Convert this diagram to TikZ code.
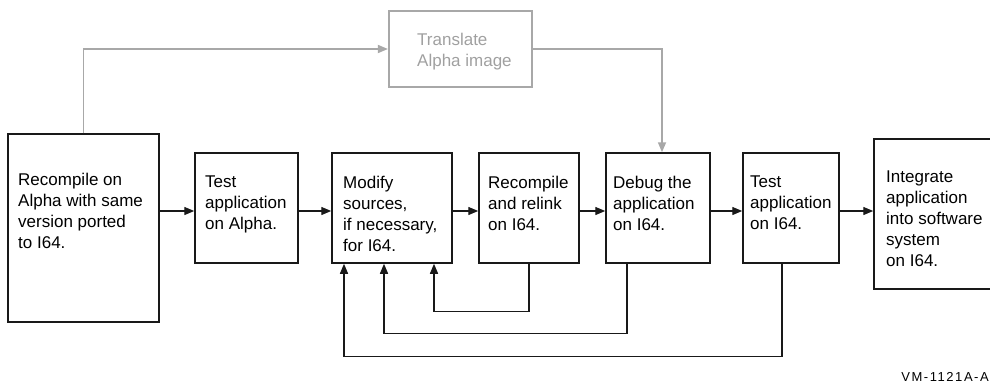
\documentclass[tikz,border=0pt]{standalone}
\usepackage{fontspec}
\setmainfont{Liberation Sans}
\usetikzlibrary{arrows.meta,calc}
\definecolor{linegr}{HTML}{A8A8A8}
\definecolor{txtgr}{HTML}{A0A0A0}
\begin{document}
\begin{tikzpicture}[x=1pt,y=-1pt,
  box/.style={draw=black!90, line width=1.5pt, inner sep=0pt, fill=white},
  gbox/.style={draw=linegr, line width=2.2pt, inner sep=0pt},
  txt/.style={inner sep=0pt, anchor=base west, font=\fontsize{17}{21}\selectfont},
  gtxt/.style={txt, text=txtgr},
  arr/.style={draw=black!90, line width=1.4pt, -{Triangle[length=10pt,width=8pt]}},
  garr/.style={draw=linegr, line width=1.7pt, -{Triangle[length=10pt,width=8pt]}},
  tag/.style={inner sep=0pt, anchor=base east, font=\fontsize{13}{15}\selectfont\addfontfeature{LetterSpace=12}}]
\useasboundingbox (0,0) rectangle (990,383);
\clip (0,0) rectangle (990,383);
% boxes
\node[box, minimum width=151pt, minimum height=188pt] (b1) at (83.5,228) {};
\node[box, minimum width=103pt, minimum height=110pt] (b2) at (246.5,208) {};
\node[box, minimum width=120pt, minimum height=110pt] (b3) at (392,208) {};
\node[box, minimum width=100pt, minimum height=110pt] (b4) at (529,208) {};
\node[box, minimum width=104pt, minimum height=110pt] (b5) at (658,208) {};
\node[box, minimum width=96pt, minimum height=110pt] (b6) at (791,208) {};
\node[box, minimum width=126pt, minimum height=150pt] (b7) at (937,214) {};
\node[gbox, minimum width=143pt, minimum height=76pt] (tr) at (460.5,49) {};
% texts
\node[txt] (t1) at (18,185) {\vtop{\hbox{Recompile on}\hbox{Alpha with same}\hbox{version ported}\hbox{to I64.}}};
\node[txt] (t2) at (205,187) {\vtop{\hbox{Test}\hbox{application}\hbox{on Alpha.}}};
\node[txt] (t3) at (343,188) {\vtop{\hbox{Modify}\hbox{sources,}\hbox{if necessary,}\hbox{for I64.}}};
\node[txt] (t4) at (488,188) {\vtop{\hbox{Recompile}\hbox{and relink}\hbox{on I64.}}};
\node[txt] (t5) at (613,188) {\vtop{\hbox{Debug the}\hbox{application}\hbox{on I64.}}};
\node[txt] (t6) at (750,187) {\vtop{\hbox{Test}\hbox{application}\hbox{on I64.}}};
\node[txt] (t7) at (886,182) {\vtop{\hbox{Integrate}\hbox{application}\hbox{into software}\hbox{system}\hbox{on I64.}}};
\node[gtxt] (ttr) at (417,45) {\vtop{\hbox{Translate}\hbox{Alpha image}}};
\node[tag] (vm) at (989,381) {VM-1121A-A};
% main flow
\coordinate (m) at (0,211);
\draw[arr] (b1.east |- m) -- (b2.west |- m);
\draw[arr] (b2.east |- m) -- (b3.west |- m);
\draw[arr] (b3.east |- m) -- (b4.west |- m);
\draw[arr] (b4.east |- m) -- (b5.west |- m);
\draw[arr] (b5.east |- m) -- (b6.west |- m);
\draw[arr] (b6.east |- m) -- (b7.west |- m);
% translate path
\draw[garr] (b1.north) |- (tr.west);
\draw[garr] (tr.east) -| ($(b5.north)+(4,0)$);
% feedback loops
\draw[arr] (b4.south) -- ++(0,48) -| ($(b3.south)+(42,0)$);
\draw[arr] ($(b5.south)+(-31,0)$) -- ++(0,70) -| ($(b3.south)+(-8,0)$);
\draw[arr] ($(b6.south)+(-9,0)$) -- ++(0,93) -| ($(b3.south)+(-48,0)$);
\end{tikzpicture}
\end{document}
